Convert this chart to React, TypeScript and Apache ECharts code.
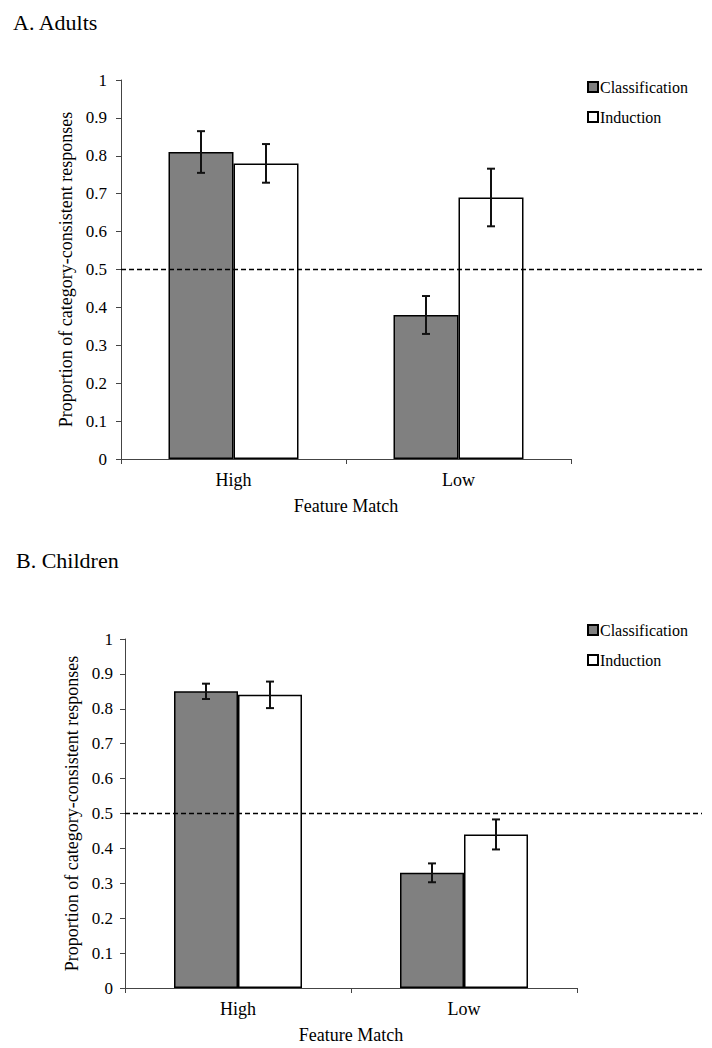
import React, { useEffect, useRef } from "react";
import * as echarts from "echarts";

// ---- Data ----
const categories = ["High", "Low"];
const seriesNames = ["Classification", "Induction"];

const adultClassification = [0.81, 0.38];
const adultClassificationErr = [0.055, 0.05];
const adultInduction = [0.78, 0.69];
const adultInductionErr = [0.051, 0.076];

const childClassification = [0.85, 0.33];
const childClassificationErr = [0.022, 0.027];
const childInduction = [0.84, 0.44];
const childInductionErr = [0.038, 0.043];

const chanceLevel = 0.5;
const yTickLabels = ["0", "0.1", "0.2", "0.3", "0.4", "0.5", "0.6", "0.7", "0.8", "0.9", "1"];

const panelTitles = ["A. Adults", "B. Children"];
const xAxisTitle = "Feature Match";
const yAxisTitle = "Proportion of category-consistent responses";

// ---- Styles ----
const FONT = "Liberation Serif, Times New Roman, serif";
const GRAY = "#808080";

const panels = [
  { grid: { left: 121, top: 80, width: 450, height: 379 }, barWidth: 65, yNameGap: 46, yLabelMargin: 14, legendTop: 74, legendLeft: 582 },
  { grid: { left: 125, top: 639, width: 452, height: 349 }, barWidth: 64, yNameGap: 43, yLabelMargin: 12, legendTop: 617, legendLeft: 582 },
];

const DASH_END_X = 702;

function errData(values: number[], errs: number[]) {
  return values.map((v, i) => [i, v - errs[i], v + errs[i]]);
}

function makeErrorSeries(idx: number, data: number[][], offsetSign: number, barWidth: number) {
  return {
    type: "custom",
    name: "err" + idx + "_" + offsetSign,
    xAxisIndex: idx,
    yAxisIndex: idx,
    z: 5,
    silent: true,
    data,
    renderItem: (params: any, api: any) => {
      const cat = api.value(0);
      const lo = api.coord([cat, api.value(1)]);
      const hi = api.coord([cat, api.value(2)]);
      const cx = lo[0] + (offsetSign * barWidth) / 2;
      const cap = 4;
      const style = { stroke: "#111", lineWidth: 2 };
      return {
        type: "group",
        children: [
          { type: "line", shape: { x1: cx, y1: hi[1], x2: cx, y2: lo[1] }, style },
          { type: "line", shape: { x1: cx - cap, y1: hi[1], x2: cx + cap, y2: hi[1] }, style },
          { type: "line", shape: { x1: cx - cap, y1: lo[1], x2: cx + cap, y2: lo[1] }, style },
        ],
      };
    },
  };
}

function makeDashSeries(idx: number) {
  return {
    type: "custom",
    name: "chance" + idx,
    xAxisIndex: idx,
    yAxisIndex: idx,
    z: 10,
    silent: true,
    clip: false,
    data: [[0, chanceLevel]],
    renderItem: (params: any, api: any) => {
      const p = api.coord([0, api.value(1)]);
      const x0 = params.coordSys.x;
      return {
        type: "line",
        shape: { x1: x0, y1: p[1], x2: DASH_END_X, y2: p[1] },
        style: { stroke: "#000", lineWidth: 1.5, lineDash: [5, 3] },
      };
    },
  };
}

export default function App() {
  const ref = useRef<HTMLDivElement>(null);

  useEffect(() => {
    if (!ref.current) return;
    const chart = echarts.init(ref.current, null, { renderer: "svg" });

    const datasets = [
      { cls: adultClassification, clsErr: adultClassificationErr, ind: adultInduction, indErr: adultInductionErr },
      { cls: childClassification, clsErr: childClassificationErr, ind: childInduction, indErr: childInductionErr },
    ];

    const series: any[] = [];
    datasets.forEach((d, idx) => {
      const bw = panels[idx].barWidth;
      series.push({
        type: "bar",
        name: seriesNames[0],
        xAxisIndex: idx,
        yAxisIndex: idx,
        data: d.cls,
        barWidth: bw,
        barGap: "0%",
        itemStyle: { color: GRAY, borderColor: "#000", borderWidth: 1.5 },
      });
      series.push({
        type: "bar",
        name: seriesNames[1],
        xAxisIndex: idx,
        yAxisIndex: idx,
        data: d.ind,
        barWidth: bw,
        barGap: "0%",
        itemStyle: { color: "#fff", borderColor: "#000", borderWidth: 1.5 },
      });
      series.push(makeErrorSeries(idx, errData(d.cls, d.clsErr), -1, bw));
      series.push(makeErrorSeries(idx, errData(d.ind, d.indErr), 1, bw));
      series.push(makeDashSeries(idx));
    });

    const option: any = {
      animation: false,
      backgroundColor: "#fff",
      textStyle: { fontFamily: FONT, color: "#000" },
      title: [
        { text: panelTitles[0], left: 8, top: 6, textStyle: { fontFamily: FONT, fontSize: 22, fontWeight: "normal", color: "#000" } },
        { text: panelTitles[1], left: 11, top: 544, textStyle: { fontFamily: FONT, fontSize: 22, fontWeight: "normal", color: "#000" } },
      ],
      legend: panels.map((p) => ({
        data: seriesNames,
        orient: "vertical",
        left: p.legendLeft,
        top: p.legendTop,
        itemWidth: 10,
        itemHeight: 10,
        itemGap: 14,
        icon: "rect",
        selectedMode: false,
        textStyle: { fontFamily: FONT, fontSize: 16, color: "#000", padding: [0, 0, 0, -3] },
      })),
      grid: panels.map((p) => ({ ...p.grid, containLabel: false })),
      xAxis: panels.map((p, idx) => ({
        type: "category",
        gridIndex: idx,
        data: categories,
        name: xAxisTitle,
        nameLocation: "middle",
        nameGap: 38,
        nameTextStyle: { fontFamily: FONT, fontSize: 18, color: "#000" },
        axisLine: { lineStyle: { color: "#444", width: 1 } },
        axisTick: { show: true, length: 5, lineStyle: { color: "#444" } },
        axisLabel: { fontFamily: FONT, fontSize: 18, color: "#000", margin: 12 },
        splitLine: { show: false },
      })),
      yAxis: panels.map((p, idx) => ({
        type: "value",
        gridIndex: idx,
        min: 0,
        max: 1,
        interval: 0.1,
        name: yAxisTitle,
        nameLocation: "middle",
        nameGap: p.yNameGap,
        nameRotate: 90,
        nameTextStyle: { fontFamily: FONT, fontSize: 18, color: "#000" },
        axisLine: { show: true, lineStyle: { color: "#444", width: 1 } },
        axisTick: { show: true, length: 5, lineStyle: { color: "#444" } },
        axisLabel: {
          fontFamily: FONT,
          fontSize: 17,
          color: "#000",
          margin: p.yLabelMargin,
          formatter: (v: number) => yTickLabels[Math.round(v * 10)],
        },
        splitLine: { show: false },
      })),
      series,
    };

    chart.setOption(option);
    return () => chart.dispose();
  }, []);

  return (
    <div
      ref={ref}
      style={{ position: "fixed", left: 0, top: 0, width: 712, height: 1048, background: "#fff" }}
    />
  );
}
